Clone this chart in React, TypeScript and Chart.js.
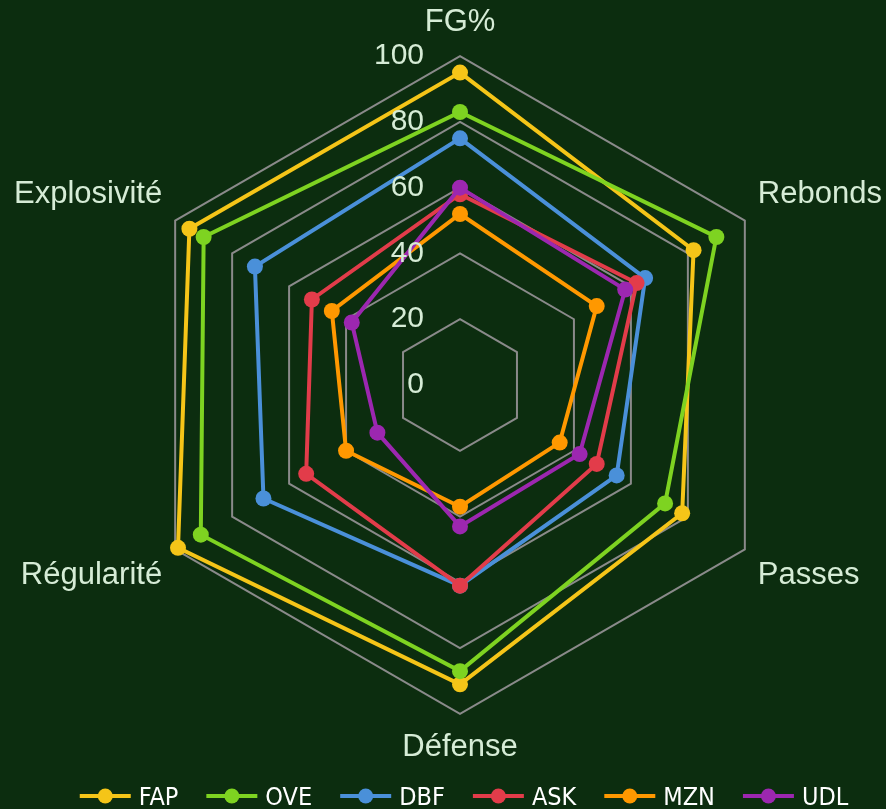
import React, { useEffect, useRef } from 'react';
import { Chart, registerables } from 'chart.js';

Chart.register(...registerables);

const categories = ['FG%', 'Rebonds', 'Passes', 'Défense', 'Régularité', 'Explosivité'];
const seriesNames = ['FAP', 'OVE', 'DBF', 'ASK', 'MZN', 'UDL'];
const FAP = [95, 82, 78, 91, 99, 95];
const OVE = [83, 90, 72, 87, 91, 90];
const DBF = [75, 65, 55, 61, 69, 72];
const ASK = [58, 62, 48, 61, 54, 52];
const MZN = [52, 48, 35, 37, 40, 45];
const UDL = [60, 58, 42, 43, 29, 38];
const seriesColors = ['#F5C518', '#7ED321', '#4A90D9', '#E23C4A', '#FF9800', '#9C27B0'];
const tickValues = [0, 20, 40, 60, 80, 100];

const BG = '#0c2d0f';
const TEXT = '#d6ecd6';
const FONT = '"Liberation Sans", Arial, sans-serif';
const LEGEND_FONT = '"Liberation Sans Narrow", "DejaVu Sans Condensed", sans-serif';
const PAGE_W = 886;
const CANVAS_W = 893;
const CANVAS_H = 809;

export default function App() {
  const ref = useRef<HTMLCanvasElement>(null);

  useEffect(() => {
    document.body.style.margin = '0';
    document.body.style.overflow = 'hidden';
    document.body.style.background = BG;
    const series = [FAP, OVE, DBF, ASK, MZN, UDL];

    const bgPlugin = {
      id: 'bg',
      beforeDraw(chart: any) {
        const { ctx, width, height } = chart;
        ctx.save();
        ctx.fillStyle = BG;
        ctx.fillRect(0, 0, width, height);
        ctx.restore();
      },
    };

    const tickPlugin = {
      id: 'tickLabels',
      afterDatasetsDraw(chart: any) {
        const s = chart.scales.r;
        const ctx = chart.ctx;
        ctx.save();
        ctx.fillStyle = TEXT;
        ctx.font = `30px ${FONT}`;
        ctx.textAlign = 'right';
        ctx.textBaseline = 'middle';
        tickValues.forEach((v) => {
          const y = s.yCenter - s.getDistanceFromCenterForValue(v);
          ctx.fillText(String(v), s.xCenter - 36, y);
        });
        ctx.restore();
      },
    };

    const legendPlugin = {
      id: 'customLegend',
      afterDraw(chart: any) {
        const ctx = chart.ctx;
        const lineLen = 51;
        const gapText = 8;
        const itemGap = 28;
        const y = 796;
        ctx.save();
        ctx.font = `25px ${LEGEND_FONT}`;
        ctx.textBaseline = 'alphabetic';
        ctx.textAlign = 'left';
        const ds = chart.data.datasets;
        const widths = ds.map((d: any) => lineLen + gapText + ctx.measureText(d.label).width);
        const total = widths.reduce((a: number, b: number) => a + b, 0) + itemGap * (ds.length - 1);
        let x = (PAGE_W - total) / 2 + 21;
        ds.forEach((d: any, i: number) => {
          ctx.strokeStyle = d.borderColor;
          ctx.lineWidth = 4;
          ctx.beginPath();
          ctx.moveTo(x, y);
          ctx.lineTo(x + lineLen, y);
          ctx.stroke();
          ctx.fillStyle = d.borderColor;
          ctx.beginPath();
          ctx.arc(x + lineLen / 2, y, 7.5, 0, Math.PI * 2);
          ctx.fill();
          ctx.fillStyle = '#ffffff';
          ctx.fillText(d.label, x + lineLen + gapText, 805);
          x += widths[i] + itemGap;
        });
        ctx.restore();
      },
    };

    const chart = new Chart(ref.current as HTMLCanvasElement, {
      type: 'radar',
      data: {
        labels: categories,
        datasets: series.map((d, i) => ({
          label: seriesNames[i],
          data: d,
          borderColor: seriesColors[i],
          backgroundColor: seriesColors[i],
          pointBackgroundColor: seriesColors[i],
          pointBorderColor: seriesColors[i],
          borderWidth: 4,
          pointRadius: 8,
          pointBorderWidth: 0,
          fill: false,
          tension: 0,
          order: series.length - 1 - i,
        })),
      },
      options: {
        responsive: false,
        animation: false,
        layout: { padding: { top: 4, bottom: 41, left: 0, right: 0 } },
        plugins: {
          legend: { display: false },
          tooltip: { enabled: false },
        },
        scales: {
          r: {
            min: 0,
            max: 100,
            ticks: { stepSize: 20, display: false },
            grid: { color: '#8a8a8a', lineWidth: 2 },
            angleLines: { display: false },
            pointLabels: {
              color: TEXT,
              font: { size: 31, family: FONT },
              padding: 15,
            },
          },
        },
      },
      plugins: [bgPlugin, tickPlugin, legendPlugin],
    } as any);

    return () => chart.destroy();
  }, []);

  return (
    <div style={{ width: PAGE_W, height: CANVAS_H, overflow: 'hidden' }}>
      <canvas ref={ref} width={CANVAS_W} height={CANVAS_H} style={{ display: 'block' }} />
    </div>
  );
}
